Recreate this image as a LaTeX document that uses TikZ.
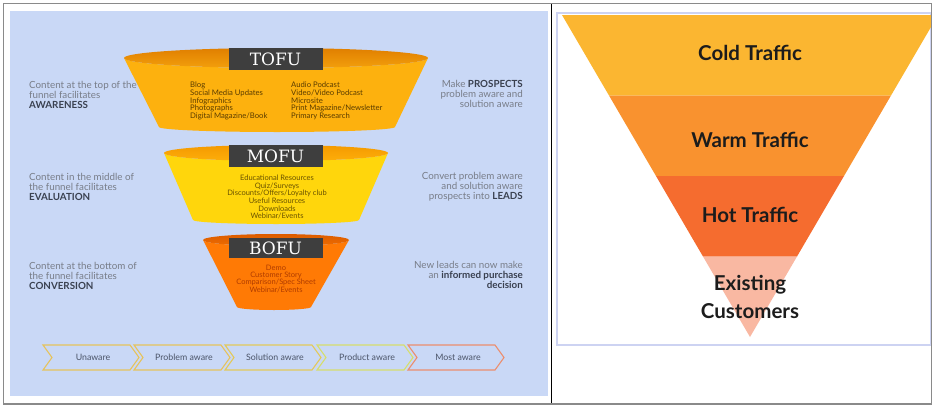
\documentclass[tikz,border=0pt]{standalone}
\usepackage{fontspec}
\setmainfont{Lato}
\newfontfamily\slab{DejaVu Serif}
\usetikzlibrary{calc}
\definecolor{panelblue}{HTML}{C9D8F6}
\definecolor{framelav}{HTML}{CDD3F2}
\definecolor{outergray}{HTML}{8A8A8A}
\definecolor{boxgray}{HTML}{3E3E3E}
\definecolor{tofubody}{HTML}{FDB10E}
\definecolor{tofutopA}{HTML}{E07F00}
\definecolor{tofutopB}{HTML}{F39F0C}
\definecolor{mofubody}{HTML}{FFD60C}
\definecolor{mofutopA}{HTML}{F59A00}
\definecolor{mofutopB}{HTML}{FDAE0A}
\definecolor{bofubody}{HTML}{FF7A05}
\definecolor{bofutopA}{HTML}{DC5C00}
\definecolor{bofutopB}{HTML}{EE6C00}
\definecolor{tofutext}{HTML}{5A3C00}
\definecolor{mofutext}{HTML}{6A5300}
\definecolor{bofutext}{HTML}{B03C00}
\definecolor{sidegray}{HTML}{787D88}
\definecolor{sidedark}{HTML}{3A4150}
\definecolor{chevtext}{HTML}{4B5468}
\definecolor{chevA}{HTML}{E6C35C}
\definecolor{chevB}{HTML}{E3C95A}
\definecolor{chevC}{HTML}{D6DE6C}
\definecolor{chevD}{HTML}{EC8E6E}
\definecolor{coldc}{HTML}{FBB631}
\definecolor{warmc}{HTML}{F9922F}
\definecolor{hotc}{HTML}{F56C2F}
\definecolor{existc}{HTML}{F9B8A2}
\definecolor{labelblack}{HTML}{1C1C1C}
\tikzset{
  stagebox/.style={fill=boxgray, text=white, minimum width=94pt, minimum height=22pt, inner sep=0pt, font=\slab\fontsize{17}{17}\selectfont},
  innertext/.style={inner sep=0pt, font=\fontsize{7.7}{7.7}\selectfont},
  sidetext/.style={inner sep=0pt, text=sidegray, font=\fontsize{9.8}{10}\selectfont},
  chevlabel/.style={inner sep=0pt, text=chevtext, font=\fontsize{8.8}{9}\selectfont},
  chevron/.style={line width=1.1pt, fill=panelblue},
  trafficlabel/.style={inner sep=0pt, text=labelblack, font=\bfseries\fontsize{20.5}{28}\selectfont, align=center}
}
\begin{document}
\begin{tikzpicture}[x=1pt,y=-1pt]
\useasboundingbox (0,0) rectangle (935,407);
\fill[white] (0,0) rectangle (935,407);
% left panel
\fill[panelblue] (10,11) rectangle (548,396);
% right frame
\draw[framelav, line width=1.2pt] (557,13) rectangle (931,345);
% right triangle funnel
\begin{scope}
\clip (557.6,13.6) rectangle (931,344.4);
\coordinate (TL) at (562,15);
\coordinate (TR) at (938,15);
\coordinate (AP) at (750,337);
\fill[coldc] (TL) -- (TR) -- ($(TR)!0.25!(AP)$) -- ($(TL)!0.25!(AP)$) -- cycle;
\fill[warmc] ($(TL)!0.25!(AP)$) -- ($(TR)!0.25!(AP)$) -- ($(TR)!0.5!(AP)$) -- ($(TL)!0.5!(AP)$) -- cycle;
\fill[hotc] ($(TL)!0.5!(AP)$) -- ($(TR)!0.5!(AP)$) -- ($(TR)!0.75!(AP)$) -- ($(TL)!0.75!(AP)$) -- cycle;
\fill[existc] ($(TL)!0.75!(AP)$) -- ($(TR)!0.75!(AP)$) -- (AP) -- cycle;
\end{scope}
\node[trafficlabel] (cold) at (750,53) {Cold Traffic};
\node[trafficlabel] (warm) at (750,140) {Warm Traffic};
\node[trafficlabel] (hot) at (750,215) {Hot Traffic};
\node[trafficlabel] (exist) at (750,297) {Existing\\Customers};
% TOFU
\fill[tofubody] (124,58) -- (159,127) arc[start angle=180,end angle=0,x radius=118,y radius=5] -- (428,58) arc[start angle=0,end angle=180,x radius=152,y radius=10] -- cycle;
\shade[top color=tofutopA, bottom color=tofutopB] (276,58) ellipse [x radius=152, y radius=10];
\node[stagebox] (tofu) at (275.5,59) {TOFU};
\node[innertext, text=tofutext, anchor=north west, align=left] (tofuL) at (190,82) {Blog\\Social Media Updates\\Infographics\\Photographs\\Digital Magazine/Book};
\node[innertext, text=tofutext, anchor=north west, align=left] (tofuR) at (291,82) {Audio Podcast\\Video/Video Podcast\\Microsite\\Print Magazine/Newsletter\\Primary Research};
% MOFU
\fill[mofubody] (164,153) -- (193,220) arc[start angle=180,end angle=0,x radius=83,y radius=4] -- (388,153) arc[start angle=0,end angle=180,x radius=112,y radius=8] -- cycle;
\shade[top color=mofutopA, bottom color=mofutopB] (276,153) ellipse [x radius=112, y radius=8];
\node[stagebox] (mofu) at (275.5,156) {MOFU};
\node[innertext, text=mofutext, anchor=north, align=center, font=\fontsize{7.5}{7.6}\selectfont] (mofuT) at (277,175) {Educational Resources\\Quiz/Surveys\\Discounts/Offers/Loyalty club\\Useful Resources\\Downloads\\Webinar/Events};
% BOFU
\fill[bofubody] (203,240) -- (237,307) arc[start angle=180,end angle=0,x radius=37,y radius=3] -- (349,240) arc[start angle=0,end angle=180,x radius=73,y radius=6] -- cycle;
\shade[top color=bofutopA, bottom color=bofutopB] (276,240) ellipse [x radius=73, y radius=6];
\node[stagebox, minimum height=20pt] (bofu) at (275.5,248) {BOFU};
\node[innertext, text=bofutext, anchor=north, align=center, font=\fontsize{7.5}{7.4}\selectfont] (bofuT) at (276,264.5) {Demo\\Customer Story\\Comparison/Spec Sheet\\Webinar/Events};
% side texts
\node[sidetext, anchor=north west, align=left] (lt1) at (29,81) {Content at the top of the\\funnel facilitates\\{\color{sidedark}\bfseries AWARENESS}};
\node[sidetext, anchor=north west, align=left] (lt2) at (29,173) {Content in the middle of\\the funnel facilitates\\{\color{sidedark}\bfseries EVALUATION}};
\node[sidetext, anchor=north west, align=left] (lt3) at (29,262) {Content at the bottom of\\the funnel facilitates\\{\color{sidedark}\bfseries CONVERSION}};
\node[sidetext, anchor=north east, align=right] (rt1) at (523,80) {Make {\color{sidedark}\bfseries PROSPECTS}\\problem aware and\\solution aware};
\node[sidetext, anchor=north east, align=right] (rt2) at (523,172) {Convert problem aware\\and solution aware\\prospects into {\color{sidedark}\bfseries LEADS}};
\node[sidetext, anchor=north east, align=right] (rt3) at (523,261.5) {New leads can now make\\an {\color{sidedark}\bfseries informed purchase}\\{\color{sidedark}\bfseries decision}};
% chevrons
\foreach \xo/\col/\lab/\nm in {43/chevA/Unaware/ch1, 134/chevA/Problem aware/ch2, 225/chevB/Solution aware/ch3, 317/chevC/Product aware/ch4, 408/chevD/Most aware/ch5}{
  \draw[chevron, draw=\col] (\xo,345) -- ++(87,0) -- ++(9,12.5) -- ++(-9,12.5) -- ++(-87,0) -- ++(9,-12.5) -- cycle;
  \node[chevlabel] (\nm) at (\xo+50,357.5) {\lab};
}
% divider and outer frame
\draw[black, line width=1pt] (551,3) -- (551,404);
\draw[outergray, line width=1.2pt] (3.5,3.5) rectangle (931.5,404);
\end{tikzpicture}
\end{document}
